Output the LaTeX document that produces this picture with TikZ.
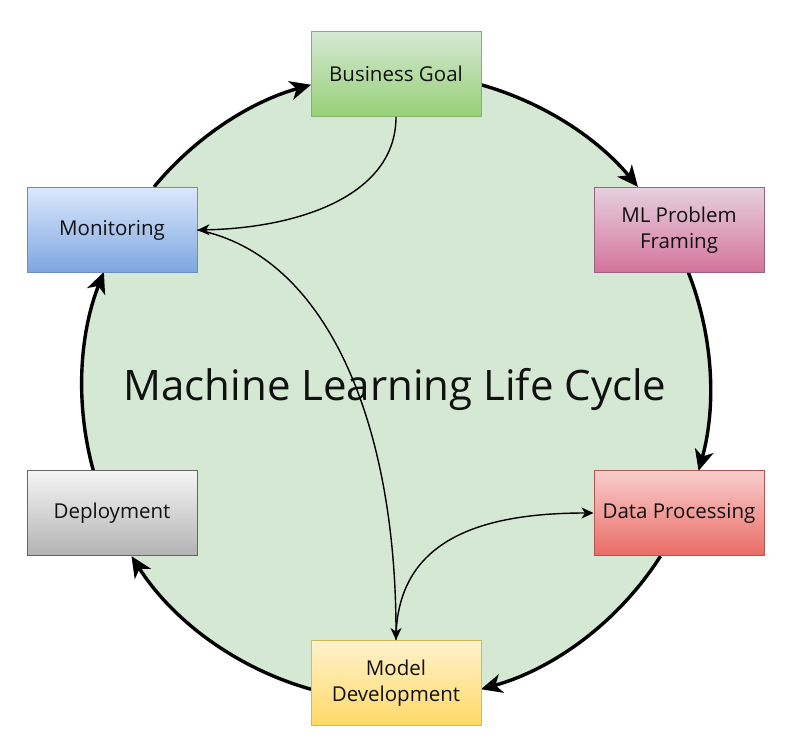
\documentclass[tikz,border=0pt]{standalone}
\usepackage{fontspec}
\setmainfont{Open Sans}
\usetikzlibrary{arrows.meta,calc}
\definecolor{circfill}{HTML}{D5E8D4}
\definecolor{gT}{HTML}{D5E8D4}\definecolor{gB}{HTML}{97D077}\definecolor{gS}{HTML}{82B366}
\definecolor{pT}{HTML}{E6D0DE}\definecolor{pB}{HTML}{D5739D}\definecolor{pS}{HTML}{996185}
\definecolor{rT}{HTML}{F8CECC}\definecolor{rB}{HTML}{EA6B66}\definecolor{rS}{HTML}{B85450}
\definecolor{yT}{HTML}{FFF2CC}\definecolor{yB}{HTML}{FFD966}\definecolor{yS}{HTML}{D6B656}
\definecolor{kT}{HTML}{F5F5F5}\definecolor{kB}{HTML}{B3B3B3}\definecolor{kS}{HTML}{666666}
\definecolor{bT}{HTML}{DAE8FC}\definecolor{bB}{HTML}{7EA6E0}\definecolor{bS}{HTML}{6C8EBF}
\definecolor{txt}{HTML}{111111}
\tikzset{
  stagebox/.style={minimum width=170pt, minimum height=85pt, inner sep=0pt, line width=1pt,
    align=center, text=txt, font=\fontsize{20.5}{26}\selectfont},
  ringarrow/.style={line width=3.4pt, -{Stealth[length=21pt,width=19pt,inset=6pt]}},
  innerarrow/.style={line width=1.4pt, -{Stealth[length=12pt,width=11pt,inset=3.5pt]}},
}
\begin{document}
\begin{tikzpicture}[x=1pt,y=1pt]
\useasboundingbox (0,0) rectangle (800,755);
\coordinate (c) at (396,368);
\fill[circfill] (c) circle[radius=314];

% ring points
\coordinate (bgR) at ($(c)+(74.3:314)$);
\coordinate (mlB) at ($(c)+(21.5:314)$);
\coordinate (dpB) at ($(c)+(-32.6:314)$);
\coordinate (mdL) at ($(c)+(-105.7:314)$);
\coordinate (depT) at ($(c)+(-164.5:314)$);
\coordinate (monT) at ($(c)+(-219.6:314)$);

\draw[ringarrow] (bgR) arc[start angle=74.3, end angle=39.6, radius=314];
\draw[ringarrow] (mlB) arc[start angle=21.5, end angle=-15.5, radius=314];
\draw[ringarrow] (dpB) arc[start angle=-32.6, end angle=-74.3, radius=314];
\draw[ringarrow] (mdL) arc[start angle=-105.7, end angle=-147.4, radius=314];
\draw[ringarrow] (depT) arc[start angle=-164.5, end angle=-201.5, radius=314];
\draw[ringarrow] (monT) arc[start angle=-219.6, end angle=-254.3, radius=314];

\node[stagebox, draw=gS, top color=gT, bottom color=gB] (bg) at (396,681) {Business Goal};
\node[stagebox, draw=pS, top color=pT, bottom color=pB] (ml) at (679,525) {ML Problem\\Framing};
\node[stagebox, draw=rS, top color=rT, bottom color=rB] (dp) at (679,242) {Data Processing};
\node[stagebox, draw=yS, top color=yT, bottom color=yB] (md) at (396,72) {Model\\Development};
\node[stagebox, draw=kS, top color=kT, bottom color=kB] (dep) at (112,242) {Deployment};
\node[stagebox, draw=bS, top color=bT, bottom color=bB] (mon) at (112,525) {Monitoring};

\node[text=txt, font=\fontsize{42}{50}\selectfont] (title) at (395,366) {Machine Learning Life Cycle};

\draw[innerarrow] (bg.south) .. controls (396,560) and (300,527) .. (mon.east);
\draw[innerarrow] (mon.east) .. controls (325,500) and (396,335) .. (md.north);
\draw[innerarrow] (md.north) .. controls (396,215) and (480,242) .. (dp.west);
\end{tikzpicture}
\end{document}
